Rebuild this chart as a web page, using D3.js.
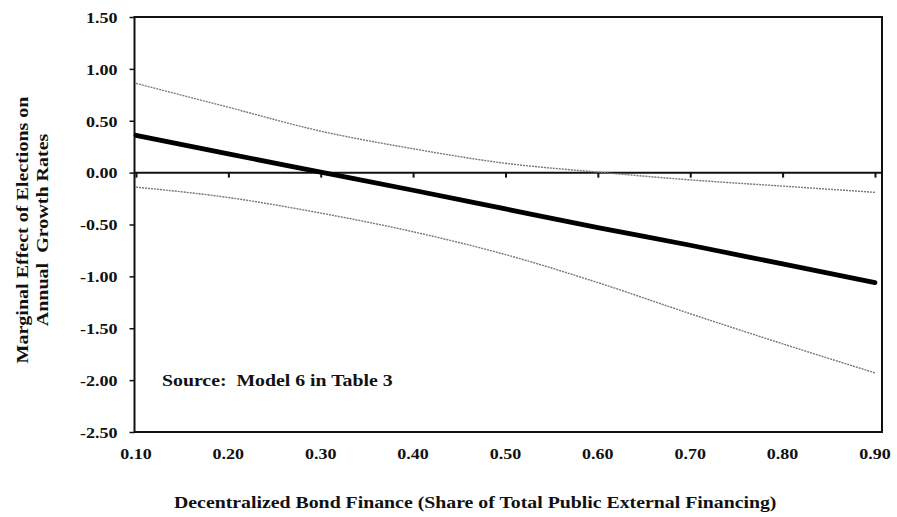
<!DOCTYPE html>
<html>
<head>
<meta charset="utf-8">
<script src="https://cdn.jsdelivr.net/npm/d3@7"></script>
<style>
  html, body { margin: 0; padding: 0; background: #fff; }
  svg text { font-family: "Liberation Serif", "Times New Roman", serif; font-weight: bold; fill: #111; white-space: pre; }
</style>
</head>
<body>
<svg id="chart" width="897" height="517"></svg>
<script>
// Share of decentralized bond finance (x) and the marginal effect estimate with its bounds
const shares = [0.10, 0.20, 0.30, 0.40, 0.50, 0.60, 0.70, 0.80, 0.90];
const effect = [0.36, 0.18, 0.005, -0.17, -0.35, -0.53, -0.70, -0.88, -1.06];
const upperBound = [0.86, 0.63, 0.40, 0.23, 0.09, 0.005, -0.07, -0.13, -0.19];
const lowerBound = [-0.14, -0.24, -0.39, -0.57, -0.79, -1.06, -1.36, -1.65, -1.93];

const xTicks = [0.10, 0.20, 0.30, 0.40, 0.50, 0.60, 0.70, 0.80, 0.90];
const yTicks = [1.50, 1.00, 0.50, 0.00, -0.50, -1.00, -1.50, -2.00, -2.50];

const xTitle = "Decentralized Bond Finance (Share of Total Public External Financing)";
const yTitleLines = ["Marginal Effect of Elections on", "Annual  Growth Rates"];
const note = "Source:  Model 6 in Table 3";

const svg = d3.select("#chart");
const plot = { left: 134.5, right: 882, top: 17, bottom: 432 };

const x = d3.scaleLinear().domain([0.0984, 0.9076]).range([plot.left, plot.right]);
const y = d3.scaleLinear().domain([-2.5, 1.5]).range([plot.bottom, plot.top]);

// Two-decimal labels with a plain hyphen for negatives
const fmt = d => d3.format(".2f")(d).replace("\u2212", "-");

// The serif face used is narrower than the original typeface; widen glyphs a little
const WIDEN = 1.2;
function widen(sel) {
  sel.each(function () {
    const w = this.getComputedTextLength();
    d3.select(this).attr("textLength", w * WIDEN).attr("lengthAdjust", "spacingAndGlyphs");
  });
}

// Frame around the plotting area
svg.append("rect")
  .attr("x", plot.left).attr("y", plot.top)
  .attr("width", plot.right - plot.left).attr("height", plot.bottom - plot.top)
  .attr("fill", "none").attr("stroke", "#111").attr("stroke-width", 2);

// Left value axis
const yAxis = d3.axisLeft(y).tickValues(yTicks).tickSize(5).tickPadding(12).tickFormat(fmt);
const gy = svg.append("g").attr("transform", `translate(${plot.left},0)`).call(yAxis);
gy.select(".domain").remove();
gy.selectAll(".tick line").attr("stroke", "#111").attr("stroke-width", 1.5);
gy.selectAll(".tick text").style("font-size", "15px").attr("dy", "0.35em").attr("fill", "#111")
  .call(widen);

// Horizontal axis crossing at zero, ticks pointing down
const xAxis = d3.axisBottom(x).tickValues(xTicks).tickSize(5).tickFormat("");
const gx = svg.append("g").attr("transform", `translate(0,${y(0)})`).call(xAxis);
gx.select(".domain").attr("stroke", "#111").attr("stroke-width", 2)
  .attr("d", `M${plot.left},0H${plot.right}`);
gx.selectAll(".tick line").attr("stroke", "#111").attr("stroke-width", 2);

// Category labels below the frame
svg.append("g").selectAll("text").data(xTicks).join("text")
  .attr("x", d => x(d)).attr("y", plot.bottom + 27)
  .attr("text-anchor", "middle").style("font-size", "15px")
  .text(fmt).call(widen);

// Series lines
const line = (vals) => d3.line()
  .x((d, i) => x(shares[i])).y(d => y(d))
  .curve(d3.curveMonotoneX)(vals);

svg.append("path").attr("d", line(upperBound))
  .attr("fill", "none").attr("stroke", "#777").attr("stroke-width", 1.4)
  .attr("stroke-dasharray", "2,1");
svg.append("path").attr("d", line(lowerBound))
  .attr("fill", "none").attr("stroke", "#777").attr("stroke-width", 1.4)
  .attr("stroke-dasharray", "2,1");
svg.append("path").attr("d", line(effect))
  .attr("fill", "none").attr("stroke", "#000").attr("stroke-width", 4.8)
  .attr("stroke-linecap", "round");

// Source note inside the plot
svg.append("text").attr("x", 162).attr("y", 386)
  .style("font-size", "16.5px").text(note).call(widen);

// Axis titles
svg.append("text").attr("x", (plot.left + plot.right) / 2 - 33).attr("y", 508)
  .attr("text-anchor", "middle").style("font-size", "16.5px").text(xTitle).call(widen);

yTitleLines.forEach((t, i) => {
  svg.append("text")
    .attr("transform", `translate(${22 + i * 20},230) rotate(-90)`)
    .attr("text-anchor", "middle").attr("dy", "0.35em")
    .style("font-size", "16.7px").text(t).call(widen);
});
</script>
</body>
</html>
